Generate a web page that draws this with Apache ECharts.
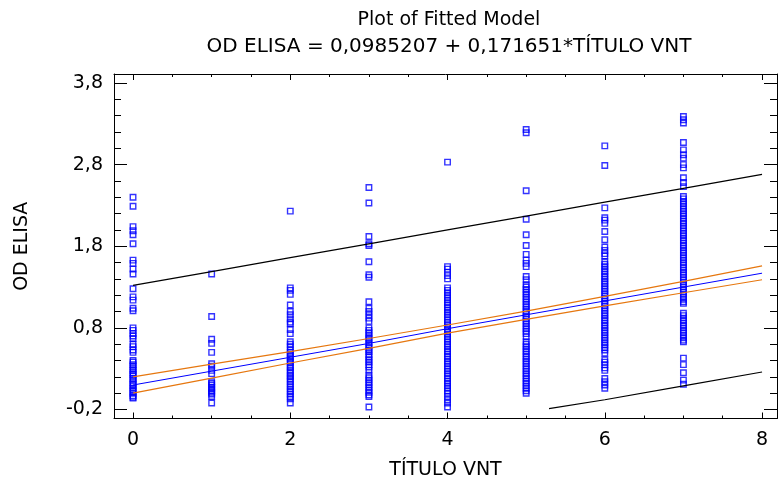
<!DOCTYPE html>
<html>
<head>
<meta charset="utf-8">
<script src="https://cdn.jsdelivr.net/npm/echarts@6/dist/echarts.min.js"></script>
<style>
  html, body { margin: 0; padding: 0; background: #fff; }
  #chart { width: 778px; height: 487px; }
</style>
</head>
<body>
<div id="chart"></div>
<script>
// OD ELISA readings grouped by TITULO VNT level
var titreLevels = [0, 1, 2, 3, 4, 5, 6, 7];
var od0 = [2.40, 2.29, 2.04, 1.99, 1.94, 1.83, 1.63, 1.59, 1.52, 1.46, 1.28, 1.18, 1.14, 1.04, 1.01,
  0.80, 0.77, 0.73, 0.70, 0.67, 0.60, 0.57, 0.53, 0.50, 0.40, 0.38, 0.35, 0.33, 0.30, 0.28, 0.25,
  0.23, 0.21, 0.18, 0.16, 0.13, 0.11, 0.09, 0.06, 0.04, 0.02, 0.00, -0.03, -0.05, -0.06];
var od1 = [1.46, 0.94, 0.66, 0.61, 0.50, 0.36, 0.33, 0.28, 0.24, 0.14, 0.12, 0.10, 0.07, 0.05,
  0.03, 0.01, -0.01, -0.04, -0.12];
var od2 = [2.23, 1.29, 1.26, 1.21, 1.08, 1.00, 0.96, 0.91, 0.87, 0.85, 0.78, 0.73, 0.63, 0.60, 0.57,
  0.53, 0.50, 0.48, 0.45, 0.42, 0.39, 0.37, 0.33, 0.31, 0.28, 0.25, 0.22, 0.20, 0.17, 0.14, 0.11,
  0.08, 0.05, 0.02, -0.01, -0.04, -0.07, -0.12];
var od3 = [2.52, 2.33, 1.92, 1.83, 1.81, 1.61, 1.45, 1.42, 1.12, 1.04, 1.00, 0.96, 0.92, 0.88,
  0.80, 0.77, 0.74, 0.71, 0.68, 0.66, 0.62, 0.59, 0.56, 0.53, 0.51, 0.47, 0.44, 0.41, 0.38, 0.35,
  0.32, 0.28, 0.22, 0.19, 0.16, 0.13, 0.10, 0.07, 0.04, 0.01, -0.02, -0.04, -0.17];
var od4 = [2.83, 1.55, 1.52, 1.48, 1.44, 1.40, 1.29, 1.26, 1.23, 1.20, 1.17, 1.14, 1.11, 1.08,
  1.05, 1.02, 0.99, 0.96, 0.93, 0.90, 0.87, 0.84, 0.81, 0.78, 0.75, 0.72, 0.69, 0.66, 0.63, 0.60,
  0.57, 0.54, 0.51, 0.48, 0.45, 0.42, 0.39, 0.36, 0.33, 0.30, 0.27, 0.24, 0.21, 0.18, 0.15, 0.12,
  0.09, 0.06, 0.03, 0.00, -0.04, -0.08, -0.12, -0.17];
var od5 = [3.23, 3.19, 2.48, 2.13, 1.94, 1.81, 1.70, 1.63, 1.59, 1.55, 1.43, 1.39, 1.33, 1.30,
  1.27, 1.24, 1.21, 1.18, 1.15, 1.12, 1.09, 1.06, 1.03, 1.00, 0.97, 0.94, 0.91, 0.88, 0.85, 0.82,
  0.79, 0.76, 0.73, 0.69, 0.63, 0.60, 0.57, 0.54, 0.51, 0.48, 0.45, 0.42, 0.39, 0.36, 0.33, 0.30,
  0.27, 0.24, 0.21, 0.18, 0.15, 0.12, 0.09, 0.06, 0.03, 0.00];
var od6 = [3.03, 2.79, 2.27, 2.15, 2.12, 2.08, 1.98, 1.88, 1.79, 1.75, 1.71, 1.68, 1.61, 1.58,
  1.55, 1.52, 1.49, 1.46, 1.43, 1.40, 1.37, 1.34, 1.31, 1.28, 1.25, 1.22, 1.19, 1.16, 1.13, 1.10,
  1.07, 1.04, 1.01, 0.98, 0.95, 0.92, 0.89, 0.86, 0.83, 0.80, 0.77, 0.74, 0.71, 0.68, 0.65, 0.62,
  0.59, 0.56, 0.53, 0.49, 0.41, 0.38, 0.35, 0.31, 0.28, 0.18, 0.14, 0.10, 0.06];
var od7 = [3.39, 3.35, 3.31, 3.07, 2.98, 2.92, 2.88, 2.80, 2.76, 2.64, 2.58, 2.53, 2.41, 2.38,
  2.35, 2.32, 2.29, 2.26, 2.23, 2.20, 2.17, 2.14, 2.11, 2.08, 2.05, 2.02, 1.99, 1.96, 1.93, 1.90,
  1.87, 1.84, 1.81, 1.78, 1.75, 1.72, 1.69, 1.66, 1.63, 1.60, 1.57, 1.54, 1.51, 1.48, 1.45, 1.42,
  1.39, 1.36, 1.33, 1.30, 1.27, 1.24, 1.21, 1.18, 1.15, 1.12, 1.10, 0.98, 0.95, 0.92, 0.89, 0.86,
  0.83, 0.80, 0.77, 0.74, 0.71, 0.68, 0.65, 0.63, 0.43, 0.35, 0.25, 0.16, 0.11];
var odByLevel = [od0, od1, od2, od3, od4, od5, od6, od7];

// fitted line with confidence (orange) and prediction (black) limits
var lineX = [0, 1, 2, 3, 4, 5, 6, 7, 8];
var fitted = [0.10, 0.27, 0.44, 0.61, 0.79, 0.96, 1.13, 1.30, 1.47];
var confUpper = [0.20, 0.355, 0.51, 0.67, 0.835, 1.005, 1.185, 1.37, 1.56];
var confLower = [0.00, 0.185, 0.37, 0.55, 0.735, 0.905, 1.07, 1.23, 1.39];
var predUpper = [1.32, 1.49, 1.66, 1.83, 2.00, 2.17, 2.34, 2.51, 2.68];
var predLowerX = [5.29, 6, 7, 8];
var predLower = [-0.19, -0.08, 0.09, 0.26];

// ticks
var xLabels = [0, 2, 4, 6, 8];
var xMinorTicks = [0.5, 1, 1.5, 2.5, 3, 3.5, 4.5, 5, 5.5, 6.5, 7, 7.5];
var yLabels = [-0.2, 0.8, 1.8, 2.8, 3.8];
var yMinorTicks = [0, 0.2, 0.4, 0.6, 1.0, 1.2, 1.4, 1.6, 2.0, 2.2, 2.4, 2.6, 3.0, 3.2, 3.4, 3.6];

var FONT = 'DejaVu Sans';
var xMin = -0.242, xMax = 8.19;
var yMin = -0.31, yMax = 3.91;

function pairs(xs, ys) {
  return xs.map(function (x, i) { return [x, ys[i]]; });
}

var points = [];
titreLevels.forEach(function (lvl, i) {
  odByLevel[i].forEach(function (v) { points.push([lvl, v]); });
});

function axis(dim, position, ticks, tickLen, withLine, labels) {
  var a = {
    type: 'value',
    position: position,
    min: dim === 'x' ? xMin : yMin,
    max: dim === 'x' ? xMax : yMax,
    splitLine: { show: false },
    axisLine: { show: withLine, onZero: false, lineStyle: { color: '#000', width: 1 } },
    axisTick: { show: true, inside: true, length: tickLen, customValues: ticks,
      lineStyle: { color: '#000', width: 1 } },
    axisLabel: { show: false }
  };
  if (labels) {
    a.axisLabel = {
      show: true,
      customValues: labels,
      color: '#000',
      fontFamily: FONT,
      fontSize: 19,
      margin: dim === 'x' ? 12 : 11,
      formatter: function (v) {
        return dim === 'x' ? String(Math.round(v)) : v.toFixed(1).replace('.', ',');
      }
    };
  }
  return a;
}

var xAxisBottom = axis('x', 'bottom', xLabels, 6, true, xLabels);
xAxisBottom.name = 'TÍTULO VNT';
xAxisBottom.nameLocation = 'middle';
xAxisBottom.nameGap = 42;
xAxisBottom.nameTextStyle = { color: '#000', fontFamily: FONT, fontSize: 19 };

var yAxisLeft = axis('y', 'left', yLabels, 13, true, yLabels);
yAxisLeft.name = 'OD ELISA';
yAxisLeft.nameLocation = 'middle';
yAxisLeft.nameGap = 82;
yAxisLeft.nameRotate = 90;
yAxisLeft.nameTextStyle = { color: '#000', fontFamily: FONT, fontSize: 19 };

var chart = echarts.init(document.getElementById('chart'));
chart.setOption({
  animation: false,
  backgroundColor: '#fff',
  title: [
    {
      text: 'Plot of Fitted Model',
      left: 449, top: 11, padding: 0, textAlign: 'center',
      textStyle: { color: '#000', fontFamily: FONT, fontSize: 19, fontWeight: 'normal' }
    },
    {
      text: 'OD ELISA = 0,0985207 + 0,171651*TÍTULO VNT',
      left: 449, top: 37, padding: 0, textAlign: 'center',
      textStyle: { color: '#000', fontFamily: FONT, fontSize: 20, fontWeight: 'normal' }
    }
  ],
  grid: { left: 114, right: 1, top: 74, bottom: 68.5, containLabel: false },
  xAxis: [
    xAxisBottom,
    axis('x', 'bottom', xMinorTicks, 3, false),
    axis('x', 'top', xLabels, 6, true),
    axis('x', 'top', xMinorTicks, 3, false)
  ],
  yAxis: [
    yAxisLeft,
    axis('y', 'left', yMinorTicks, 7, false),
    axis('y', 'right', yLabels, 13, true),
    axis('y', 'right', yMinorTicks, 7, false)
  ],
  series: [
    {
      name: 'Observed',
      type: 'scatter',
      data: points,
      symbol: 'rect',
      symbolSize: 5.5,
      itemStyle: { color: 'rgba(0,0,0,0)', borderColor: '#0000ff', borderWidth: 1.4 },
      z: 2
    },
    {
      name: 'Fitted', type: 'line', data: pairs(lineX, fitted), showSymbol: false,
      lineStyle: { color: '#0000ff', width: 1 }, z: 3
    },
    {
      name: 'Conf upper', type: 'line', data: pairs(lineX, confUpper), showSymbol: false,
      lineStyle: { color: '#e6770f', width: 1.2 }, z: 3
    },
    {
      name: 'Conf lower', type: 'line', data: pairs(lineX, confLower), showSymbol: false,
      lineStyle: { color: '#e6770f', width: 1.2 }, z: 3
    },
    {
      name: 'Pred upper', type: 'line', data: pairs(lineX, predUpper), showSymbol: false,
      lineStyle: { color: '#000', width: 1.2 }, z: 3
    },
    {
      name: 'Pred lower', type: 'line', data: pairs(predLowerX, predLower), showSymbol: false,
      lineStyle: { color: '#000', width: 1.2 }, z: 3
    }
  ]
});
</script>
</body>
</html>
